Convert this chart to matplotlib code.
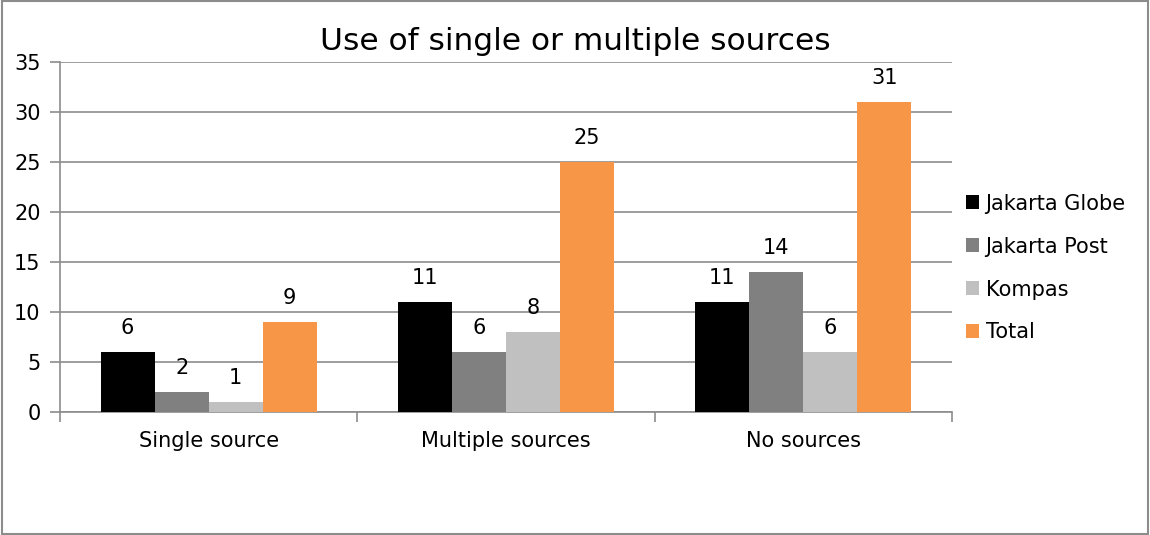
import matplotlib
matplotlib.use("Agg")
import matplotlib.pyplot as plt
import numpy as np
from matplotlib.patches import Rectangle

categories = ["Single source", "Multiple sources", "No sources"]
series_names = ["Jakarta Globe", "Jakarta Post", "Kompas", "Total"]
jakarta_globe = [6, 11, 11]
jakarta_post = [2, 6, 14]
kompas = [1, 8, 6]
total = [9, 25, 31]
series_values = [jakarta_globe, jakarta_post, kompas, total]
colors = ["#000000", "#808080", "#c0c0c0", "#f79646"]
yticks = [0, 5, 10, 15, 20, 25, 30, 35]

plt.rcParams['font.family'] = ['DejaVu Sans']

fig = plt.figure(figsize=(11.5, 5.35), dpi=100)
ax = fig.add_axes([60/1150, 1-412/535, (952-60)/1150, (412-62)/535])

x = np.arange(len(categories))
w = 0.1816
for i, (name, vals, c) in enumerate(zip(series_names, series_values, colors)):
    pos = x + (i - 1.5) * w
    bars = ax.bar(pos, vals, width=w, color=c, label=name, zorder=3)
    for b, v in zip(bars, vals):
        ax.annotate(str(v), (b.get_x() + b.get_width()/2, v), xytext=(0, 10),
                    textcoords="offset points", ha="center", va="bottom", fontsize=15)

ax.set_xlim(-0.5, 2.5)
ax.set_ylim(0, 35)
ax.set_yticks(yticks)
ax.set_yticklabels([str(t) for t in yticks], fontsize=15)
ax.yaxis.grid(True, color="#8c8c8c", linewidth=1.2, zorder=0)
ax.set_xticks(x)
ax.set_xticklabels(categories, fontsize=15)
ax.tick_params(axis="x", length=0, pad=14)
ax.set_xticks([-0.5, 0.5, 1.5, 2.5], minor=True)
ax.tick_params(axis="x", which="minor", length=7, color="#8c8c8c", width=1.2, direction="out")
ax.tick_params(axis="y", length=7, color="#8c8c8c", width=1.2, pad=7)
for s in ["top", "right"]:
    ax.spines[s].set_visible(False)
for s in ["left", "bottom"]:
    ax.spines[s].set_color("#8c8c8c")
    ax.spines[s].set_linewidth(1.2)

fig.text(575/1150, 1-42/535, "Use of single or multiple sources", ha="center", va="center", fontsize=22.5)

leg = fig.legend(loc="upper left", bbox_to_anchor=(947/1150, 1-175/535), frameon=False,
                 fontsize=15, handlelength=0.65, handleheight=0.65, handletextpad=0.3,
                 labelspacing=1.1)

fig.patches.append(Rectangle((2/1150, 0.002), 1146/1150, 0.996, transform=fig.transFigure,
                             fill=False, edgecolor="#8c8c8c", linewidth=1.5))

fig.savefig("out.png", dpi=100)
